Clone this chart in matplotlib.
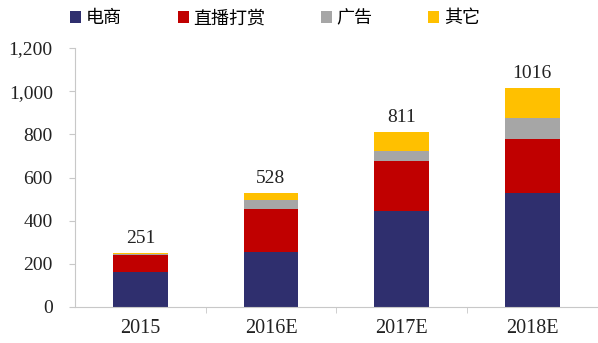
import matplotlib.pyplot as plt
import numpy as np

years = ['2015', '2016E', '2017E', '2018E']
ecommerce = [162, 255, 444, 528]
tips = [79, 199, 232, 250]
ads = [4, 41, 46, 97]
others = [6, 33, 89, 141]
totals = [251, 528, 811, 1016]

series = [('电商', ecommerce, '#2f2f6e'),
          ('直播打赏', tips, '#c00000'),
          ('广告', ads, '#a6a6a6'),
          ('其它', others, '#ffc000')]

plt.rcParams['font.family'] = ['Liberation Serif', 'Noto Sans CJK SC', 'DejaVu Sans']

fig = plt.figure(figsize=(5.98, 3.43), dpi=100)
ax = fig.add_axes([0.1254, 0.105, 0.874, 0.755])

x = np.arange(len(years))
bottom = np.zeros(len(years))
for name, vals, col in series:
    ax.bar(x, vals, 0.42, bottom=bottom, color=col, label=name, zorder=2)
    bottom += np.array(vals)

for xi, t in zip(x, totals):
    ax.text(xi, t + 26, str(t), ha='center', va='bottom', fontsize=14,
            color='#222222')

ax.set_xlim(-0.5, 3.5)
ax.set_ylim(0, 1200)
ax.set_yticks(range(0, 1201, 200))
ax.set_yticklabels([f'{v:,}' for v in range(0, 1201, 200)])
ax.set_xticks(x)
ax.set_xticklabels(years)
ax.set_xticks([0.5, 1.5, 2.5], minor=True)
ax.tick_params(axis='x', which='major', length=0, pad=9, labelsize=14.5,
               colors='#222222')
ax.tick_params(axis='x', which='minor', length=4, color='#c8c8c8')
ax.tick_params(axis='y', length=4, labelsize=14, colors='#222222', pad=12)
ax.tick_params(axis='y', color='#c8c8c8')
for s in ['top', 'right']:
    ax.spines[s].set_visible(False)
for s in ['left', 'bottom']:
    ax.spines[s].set_color('#c8c8c8')

fig.legend(loc='upper center', bbox_to_anchor=(0.46, 1.02), ncol=4,
           frameon=False, prop={'family': 'Noto Sans CJK SC', 'size': 13},
           handlelength=0.6, handleheight=0.6, handletextpad=0.25,
           columnspacing=3.1)

fig.savefig('out.png', dpi=100)
